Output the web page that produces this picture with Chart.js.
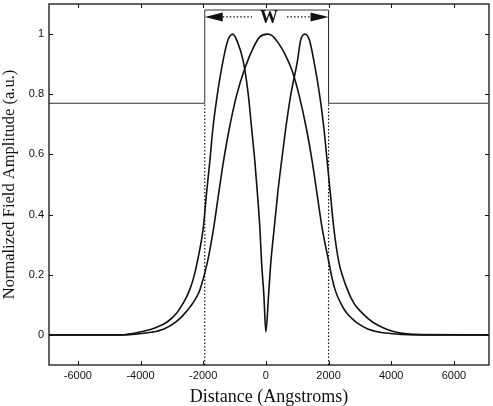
<!DOCTYPE html>
<html>
<head>
<meta charset="utf-8">
<script src="https://cdn.jsdelivr.net/npm/chart.js@4.4.0/dist/chart.umd.min.js"></script>
<style>
	body { margin: 0; background: #fff; }
	canvas { display: block; }
</style>
</head>
<body>
<canvas id="modeChart" width="493" height="406"></canvas>
<script>
// Fundamental (even) mode
const evenX = [-7000, -4500, -4050, -3650, -3250, -2900, -2750, -2600, -2465, -2350, -2200, -2095, -1865, -1670, -1515, -1355, -1165, -930, -667, -400, -200, 50, 200, 400, 600, 846, 1058, 1291, 1481, 1640, 1799, 2010, 2100, 2200, 2300, 2400, 2486, 2600, 2750, 2900, 3250, 3650, 4050, 4600, 7100]
const evenY = [0, 0, 0.004, 0.009, 0.02, 0.041, 0.054, 0.07, 0.087, 0.103, 0.128, 0.153, 0.242, 0.353, 0.464, 0.575, 0.687, 0.798, 0.887, 0.955, 0.99, 1.0, 0.995, 0.97, 0.935, 0.876, 0.798, 0.687, 0.575, 0.464, 0.353, 0.242, 0.195, 0.153, 0.125, 0.103, 0.087, 0.07, 0.054, 0.041, 0.02, 0.009, 0.004, 0.001, 0]

// First order (odd) mode, absolute value
const oddX = [-7000, -4700, -4300, -3900, -3500, -3150, -2850, -2680, -2550, -2420, -2300, -2190, -2000, -1900, -1790, -1690, -1550, -1370, -1210, -1060, -910, -720, -560, -455, -350, -265, -190, -137, -63, 0, 85, 159, 264, 371, 498, 635, 794, 1005, 1110, 1248, 1390, 1535, 1715, 1852, 1958, 2064, 2170, 2328, 2460, 2593, 2720, 2857, 3100, 3400, 3830, 4300, 5000, 7100]
const oddY = [0, 0, 0.004, 0.012, 0.025, 0.043, 0.072, 0.098, 0.122, 0.153, 0.192, 0.242, 0.353, 0.464, 0.575, 0.687, 0.798, 0.909, 0.98, 1.0, 0.975, 0.909, 0.798, 0.687, 0.575, 0.464, 0.353, 0.242, 0.131, 0.01, 0.131, 0.242, 0.353, 0.464, 0.575, 0.687, 0.798, 0.909, 0.98, 1.0, 0.98, 0.909, 0.798, 0.687, 0.575, 0.464, 0.353, 0.242, 0.192, 0.153, 0.122, 0.098, 0.07, 0.043, 0.02, 0.006, 0, 0]

// Index profile drawn as a step
const stepX = [-7000, -1950, -1950, 2000, 2000, 7100]
const stepY = [0.77, 0.77, 1.08, 1.08, 0.77, 0.77]

// Dotted guides at the core edges
const guideLeftX = [-1950, -1950]
const guideRightX = [2000, 2000]
const guideY = [-0.1, 0.77]

// "W" arrow across the core
const arrowX = [-1950, 2000]
const arrowY = 1.057
const arrowLabelX = 100
const arrowLabel = 'W'

const xTicks = [-6000, -4000, -2000, 0, 2000, 4000, 6000]
const yTicks = [0, 0.2, 0.4, 0.6, 0.8, 1]
const yTickLabels = ['0', '0.2', '0.4', '0.6', '0.8', '1']

const xTitle = 'Distance (Angstroms)'
const yTitle = 'Normalized Field Amplitude (a.u.)'

const toPoints = (xs, ys) => xs.map((x, i) => ({ x: x, y: ys[i] }))

const ink = '#111'

const frameTicks = {
	id: 'frameTicks',
	afterDraw(chart) {
		const { ctx, chartArea: a, scales } = chart
		ctx.save()
		ctx.strokeStyle = ink
		ctx.lineWidth = 1.3
		ctx.strokeRect(a.left, a.top, a.right - a.left, a.bottom - a.top)
		ctx.lineWidth = 1
		ctx.beginPath()
		xTicks.forEach(v => {
			const px = Math.round(scales.x.getPixelForValue(v)) + 0.5
			ctx.moveTo(px, a.bottom)
			ctx.lineTo(px, a.bottom - 4)
			ctx.moveTo(px, a.top)
			ctx.lineTo(px, a.top + 4)
		})
		yTicks.forEach(v => {
			const py = Math.round(scales.y.getPixelForValue(v)) + 0.5
			ctx.moveTo(a.left, py)
			ctx.lineTo(a.left + 4, py)
			ctx.moveTo(a.right, py)
			ctx.lineTo(a.right - 4, py)
		})
		ctx.stroke()

		// arrow with W label
		const y = scales.y.getPixelForValue(arrowY)
		const x1 = scales.x.getPixelForValue(arrowX[0])
		const x2 = scales.x.getPixelForValue(arrowX[1])
		const xm = scales.x.getPixelForValue(arrowLabelX)
		const head = 18
		ctx.fillStyle = ink
		ctx.beginPath()
		ctx.moveTo(x1, y)
		ctx.lineTo(x1 + head, y - 4.5)
		ctx.lineTo(x1 + head, y + 4.5)
		ctx.closePath()
		ctx.fill()
		ctx.beginPath()
		ctx.moveTo(x2, y)
		ctx.lineTo(x2 - head, y - 4.5)
		ctx.lineTo(x2 - head, y + 4.5)
		ctx.closePath()
		ctx.fill()
		ctx.setLineDash([1.5, 2])
		ctx.lineWidth = 1.2
		ctx.beginPath()
		ctx.moveTo(x1 + head, y)
		ctx.lineTo(xm - 17, y)
		ctx.moveTo(xm + 18, y)
		ctx.lineTo(x2 - head, y)
		ctx.stroke()
		ctx.setLineDash([])
		ctx.font = 'bold 18px "Liberation Serif", serif'
		ctx.textAlign = 'center'
		ctx.textBaseline = 'middle'
		ctx.fillText(arrowLabel, xm, y + 1)
		ctx.restore()
	},
}

const ctx = document.getElementById('modeChart').getContext('2d')

new Chart(ctx, {
	type: 'line',
	data: {
		datasets: [
			{
				data: toPoints(stepX, stepY),
				borderColor: '#333',
				borderWidth: 1,
				tension: 0,
			},
			{
				data: toPoints(guideLeftX, guideY),
				borderColor: ink,
				borderWidth: 1.2,
				borderDash: [1.5, 2],
			},
			{
				data: toPoints(guideRightX, guideY),
				borderColor: ink,
				borderWidth: 1.2,
				borderDash: [1.5, 2],
			},
			{
				data: toPoints(evenX, evenY),
				borderColor: ink,
				borderWidth: 1.6,
				cubicInterpolationMode: 'monotone',
			},
			{
				data: toPoints(oddX, oddY),
				borderColor: ink,
				borderWidth: 1.6,
				cubicInterpolationMode: 'monotone',
			},
		],
	},
	options: {
		responsive: false,
		animation: false,
		events: [],
		layout: { padding: { top: 4, right: 4, left: 0, bottom: 0 } },
		elements: { point: { radius: 0 } },
		plugins: { legend: { display: false }, tooltip: { enabled: false } },
		scales: {
			x: {
				type: 'linear',
				min: -6920,
				max: 7120,
				grid: { display: false, drawTicks: false },
				border: { display: false },
				afterBuildTicks: s => { s.ticks = xTicks.map(v => ({ value: v })) },
				afterFit: s => {
					s.height = 41
					s.paddingLeft = 0
					s.paddingRight = 0
				},
				ticks: {
					padding: 4,
					color: ink,
					font: { family: '"Liberation Sans", Arial, sans-serif', size: 11 },
					callback: v => String(v),
				},
				title: {
					display: true,
					text: xTitle,
					color: ink,
					padding: { top: 0, bottom: -2 },
					font: { family: '"Liberation Serif", "Times New Roman", serif', size: 18 },
				},
			},
			y: {
				type: 'linear',
				min: -0.1,
				max: 1.1,
				grid: { display: false, drawTicks: false },
				border: { display: false },
				afterBuildTicks: s => { s.ticks = yTicks.map(v => ({ value: v })) },
				afterFit: s => {
					s.width = 49
					s.paddingTop = 0
					s.paddingBottom = 0
				},
				ticks: {
					padding: 5,
					color: ink,
					font: { family: '"Liberation Sans", Arial, sans-serif', size: 11 },
					callback: (v, i) => yTickLabels[i],
				},
				title: {
					display: true,
					text: yTitle,
					color: ink,
					padding: { top: 0, bottom: 0 },
					font: { family: '"Liberation Serif", "Times New Roman", serif', size: 16.5 },
				},
			},
		},
	},
	plugins: [frameTicks],
})
</script>
</body>
</html>
